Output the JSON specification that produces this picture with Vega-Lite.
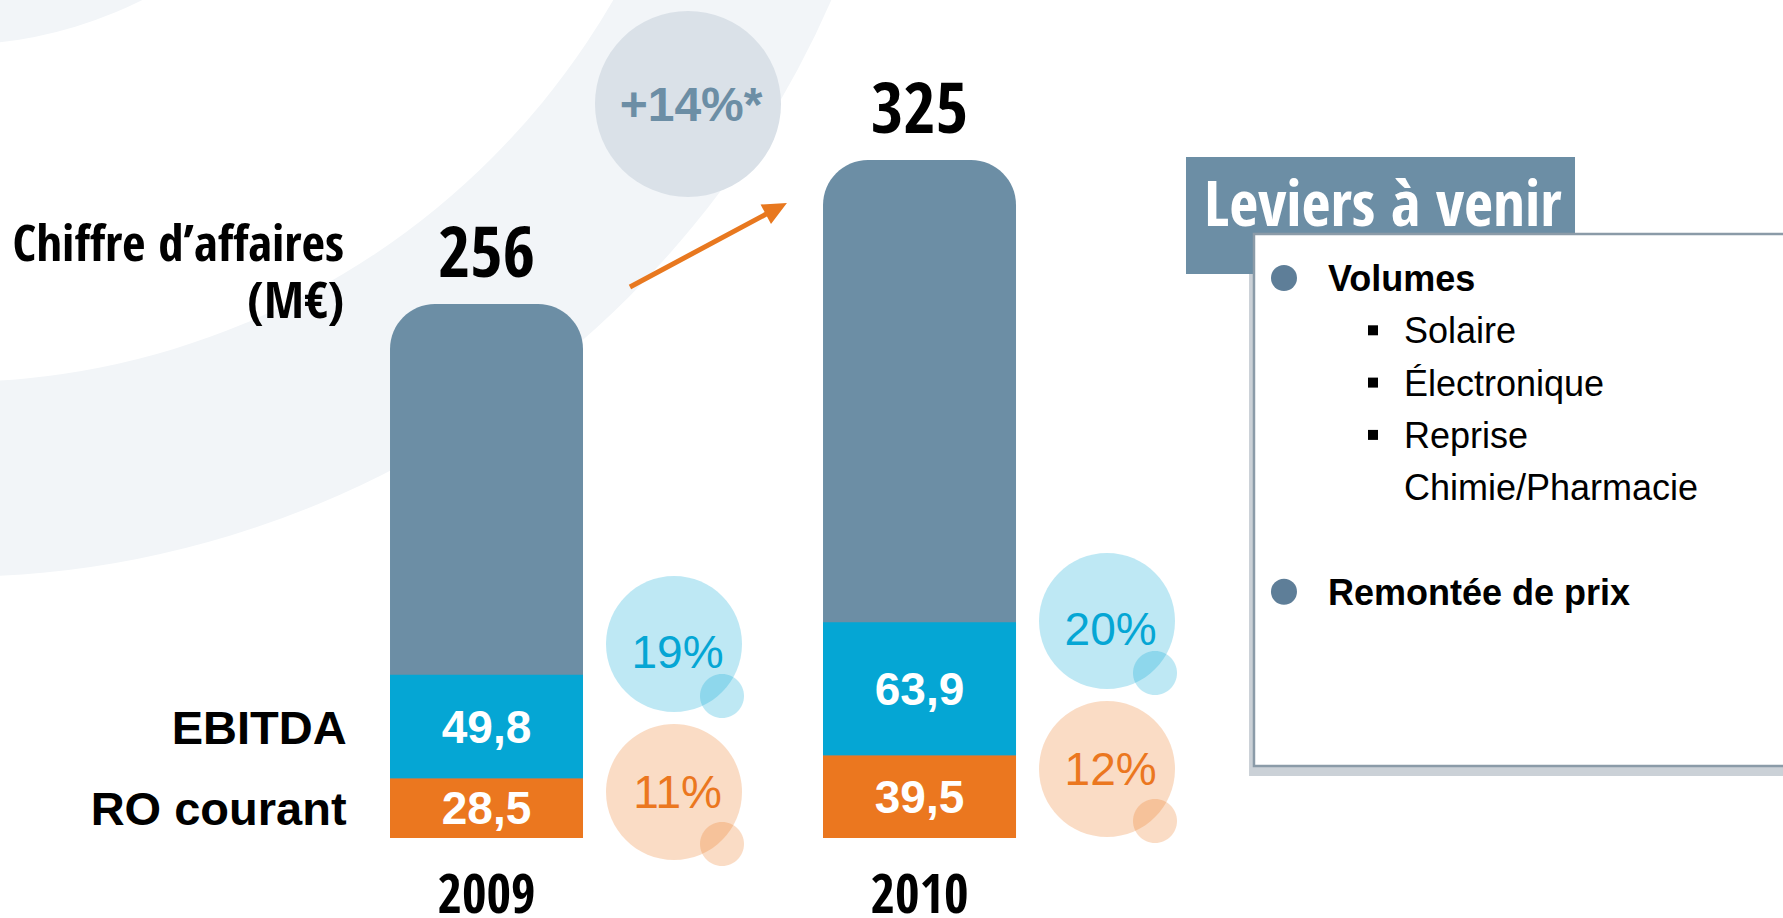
{
  "$schema": "https://vega.github.io/schema/vega-lite/v6.json",
  "width": 1783,
  "height": 918,
  "autosize": {"type": "none"},
  "padding": 0,
  "background": "white",
  "config": {
    "view": {"stroke": null},
    "locale": {"number": {"decimal": ",", "thousands": "\u00a0", "grouping": [3], "currency": ["", "\u00a0€"], "percent": "%"}}
  },
  "datasets": {
    "totals": [
      {"year": "2009", "ca": 256},
      {"year": "2010", "ca": 325}
    ],
    "segments": [
      {"year": "2009", "measure": "EBITDA", "value": 49.8, "margin": 0.19},
      {"year": "2009", "measure": "RO courant", "value": 28.5, "margin": 0.11},
      {"year": "2010", "measure": "EBITDA", "value": 63.9, "margin": 0.20},
      {"year": "2010", "measure": "RO courant", "value": 39.5, "margin": 0.12}
    ],
    "growth": [
      {"from": "2009", "to": "2010", "label": "+14%*"}
    ],
    "levers": [
      {"item": "Volumes", "level": 1, "line": 0, "bullet": true},
      {"item": "Solaire", "level": 2, "line": 1, "bullet": true},
      {"item": "Électronique", "level": 2, "line": 2, "bullet": true},
      {"item": "Reprise", "level": 2, "line": 3, "bullet": true},
      {"item": "Chimie/Pharmacie", "level": 2, "line": 4, "bullet": false},
      {"item": "Remontée de prix", "level": 1, "line": 6, "bullet": true}
    ],
    "panel": [
      {"title": "Leviers à venir"}
    ]
  },
  "layer": [
    {
      "layer": [
        {
          "data": {"values": [{}]},
          "mark": {"type": "arc", "radius": 960, "radius2": 765, "theta": 0, "theta2": 6.2832, "fill": "#F2F5F8"},
          "encoding": {
            "x": {"datum": "2009", "type": "nominal", "bandPosition": -2.2746, "axis": null, "scale": {"type": "band", "domain": ["2009", "2010", "à venir"], "paddingInner": 0.5543, "paddingOuter": 0.836, "align": 0.5387}},
            "y": {"datum": 585.3, "type": "quantitative", "axis": null, "scale": {"domain": [-38.35, 401.73], "nice": false, "zero": false}}
          }
        },
        {
          "data": {"values": [{}]},
          "mark": {"type": "arc", "radius": 428, "radius2": 0, "theta": 0, "theta2": 6.2832, "fill": "#F2F5F8"},
          "encoding": {
            "x": {"datum": "2009", "type": "nominal", "bandPosition": -2.2746, "axis": null, "scale": {"type": "band", "domain": ["2009", "2010", "à venir"], "paddingInner": 0.5543, "paddingOuter": 0.836, "align": 0.5387}},
            "y": {"datum": 585.3, "type": "quantitative", "axis": null, "scale": {"domain": [-38.35, 401.73], "nice": false, "zero": false}}
          }
        },
        {
          "data": {"name": "growth"},
          "mark": {"type": "point", "shape": "circle", "filled": true, "size": 34596, "color": "#DAE1E8", "opacity": 1, "strokeWidth": 0},
          "encoding": {
            "x": {"field": "from", "type": "nominal", "bandPosition": 1.544, "axis": null, "scale": {"type": "band", "domain": ["2009", "2010", "à venir"], "paddingInner": 0.5543, "paddingOuter": 0.836, "align": 0.5387}},
            "y": {"datum": 351.9, "type": "quantitative", "axis": null, "scale": {"domain": [-38.35, 401.73], "nice": false, "zero": false}}
          }
        },
        {
          "data": {"name": "growth"},
          "mark": {"type": "text", "font": "Arial, 'Liberation Sans', sans-serif", "fontWeight": "bold", "fontSize": 48, "color": "#6C8EA5", "align": "center", "baseline": "alphabetic", "dy": 17},
          "encoding": {
            "x": {"field": "from", "type": "nominal", "bandPosition": 1.56, "axis": null, "scale": {"type": "band", "domain": ["2009", "2010", "à venir"], "paddingInner": 0.5543, "paddingOuter": 0.836, "align": 0.5387}},
            "y": {"datum": 351.9, "type": "quantitative", "axis": null, "scale": {"domain": [-38.35, 401.73], "nice": false, "zero": false}},
            "text": {"field": "label"}
          }
        },
        {
          "data": {"name": "growth"},
          "mark": {"type": "point", "shape": "M-0.859,0.491L0.650,-0.316L0.695,-0.233L0.872,-0.467L0.579,-0.449L0.624,-0.365L-0.885,0.442Z", "filled": true, "size": 32400, "color": "#E8781F", "opacity": 1, "strokeWidth": 0},
          "encoding": {
            "x": {"field": "from", "type": "nominal", "bandPosition": 1.65, "axis": null, "scale": {"type": "band", "domain": ["2009", "2010", "à venir"], "paddingInner": 0.5543, "paddingOuter": 0.836, "align": 0.5387}},
            "y": {"datum": 284.3, "type": "quantitative", "axis": null, "scale": {"domain": [-38.35, 401.73], "nice": false, "zero": false}}
          }
        },
        {
          "data": {"name": "totals"},
          "mark": {"type": "bar", "color": "#6C8EA5", "cornerRadiusTopLeft": 45, "cornerRadiusTopRight": 45},
          "encoding": {
            "x": {"field": "year", "type": "nominal", "axis": null, "scale": {"type": "band", "domain": ["2009", "2010", "à venir"], "paddingInner": 0.5543, "paddingOuter": 0.836, "align": 0.5387}},
            "y": {"field": "ca", "type": "quantitative", "axis": null, "scale": {"domain": [-38.35, 401.73], "nice": false, "zero": false}},
            "y2": {"datum": 0}
          }
        },
        {
          "data": {"name": "segments"},
          "mark": {"type": "bar"},
          "encoding": {
            "x": {"field": "year", "type": "nominal", "axis": null, "scale": {"type": "band", "domain": ["2009", "2010", "à venir"], "paddingInner": 0.5543, "paddingOuter": 0.836, "align": 0.5387}},
            "y": {"field": "value", "type": "quantitative", "stack": "zero", "axis": null, "scale": {"domain": [-38.35, 401.73], "nice": false, "zero": false}},
            "color": {"field": "measure", "type": "nominal", "legend": null, "scale": {"domain": ["EBITDA", "RO courant"], "range": ["#05A6D4", "#EB771F"]}},
            "order": {"field": "measure", "type": "nominal", "sort": "descending"}
          }
        },
        {
          "data": {"name": "segments"},
          "mark": {"type": "text", "font": "Arial, 'Liberation Sans', sans-serif", "fontWeight": "bold", "fontSize": 46, "color": "white", "align": "center", "baseline": "alphabetic", "dy": 16},
          "encoding": {
            "x": {"field": "year", "type": "nominal", "axis": null, "scale": {"type": "band", "domain": ["2009", "2010", "à venir"], "paddingInner": 0.5543, "paddingOuter": 0.836, "align": 0.5387}},
            "y": {"field": "value", "type": "quantitative", "stack": "zero", "bandPosition": 0.5, "axis": null, "scale": {"domain": [-38.35, 401.73], "nice": false, "zero": false}},
            "detail": {"field": "measure", "type": "nominal"},
            "order": {"field": "measure", "type": "nominal", "sort": "descending"},
            "text": {"field": "value", "type": "quantitative", "format": ".1f"}
          }
        },
        {
          "data": {"name": "segments"},
          "transform": [{"filter": "datum.year === '2009'"}],
          "mark": {"type": "text", "font": "Arial, 'Liberation Sans', sans-serif", "fontWeight": "bold", "fontSize": 47, "color": "black", "align": "right", "baseline": "alphabetic", "dy": 17},
          "encoding": {
            "x": {"field": "year", "type": "nominal", "bandPosition": -0.225, "axis": null, "scale": {"type": "band", "domain": ["2009", "2010", "à venir"], "paddingInner": 0.5543, "paddingOuter": 0.836, "align": 0.5387}},
            "y": {"field": "value", "type": "quantitative", "stack": "zero", "bandPosition": 0.5, "axis": null, "scale": {"domain": [-38.35, 401.73], "nice": false, "zero": false}},
            "detail": {"field": "measure", "type": "nominal"},
            "order": {"field": "measure", "type": "nominal", "sort": "descending"},
            "text": {"field": "measure", "type": "nominal"}
          }
        },
        {
          "data": {"name": "totals"},
          "mark": {"type": "text", "font": "'Open Sans Condensed', 'Open Sans', sans-serif", "fontWeight": 800, "fontSize": 70, "color": "black", "align": "center", "baseline": "alphabetic", "dy": -27},
          "encoding": {
            "x": {"field": "year", "type": "nominal", "axis": null, "scale": {"type": "band", "domain": ["2009", "2010", "à venir"], "paddingInner": 0.5543, "paddingOuter": 0.836, "align": 0.5387}},
            "y": {"field": "ca", "type": "quantitative", "axis": null, "scale": {"domain": [-38.35, 401.73], "nice": false, "zero": false}},
            "text": {"field": "ca", "type": "quantitative", "format": "d"}
          }
        },
        {
          "data": {"name": "totals"},
          "mark": {"type": "text", "font": "'Open Sans Condensed', 'Open Sans', sans-serif", "fontWeight": 800, "fontSize": 53, "color": "black", "align": "center", "baseline": "alphabetic", "dy": 75},
          "encoding": {
            "x": {"field": "year", "type": "nominal", "axis": null, "scale": {"type": "band", "domain": ["2009", "2010", "à venir"], "paddingInner": 0.5543, "paddingOuter": 0.836, "align": 0.5387}},
            "y": {"datum": 0, "type": "quantitative", "axis": null, "scale": {"domain": [-38.35, 401.73], "nice": false, "zero": false}},
            "text": {"field": "year", "type": "nominal"}
          }
        },
        {
          "data": {"name": "totals"},
          "transform": [{"filter": "datum.year === '2009'"}],
          "mark": {"type": "text", "font": "'Open Sans Condensed', 'Open Sans', sans-serif", "fontWeight": 800, "fontSize": 51, "color": "black", "align": "right", "baseline": "alphabetic", "dy": -43, "lineHeight": 57},
          "encoding": {
            "x": {"field": "year", "type": "nominal", "bandPosition": -0.238, "axis": null, "scale": {"type": "band", "domain": ["2009", "2010", "à venir"], "paddingInner": 0.5543, "paddingOuter": 0.836, "align": 0.5387}},
            "y": {"field": "ca", "type": "quantitative", "axis": null, "scale": {"domain": [-38.35, 401.73], "nice": false, "zero": false}},
            "text": {"value": ["Chiffre d’affaires", "(M€)"]}
          }
        },
        {
          "data": {"name": "segments"},
          "mark": {"type": "point", "shape": "M-0.68,-1.345A0.68,0.68,0,1,0,0.68,-1.345A0.68,0.68,0,1,0,-0.68,-1.345Z", "filled": true, "size": 40000, "strokeWidth": 0},
          "encoding": {
            "x": {"field": "year", "type": "nominal", "bandPosition": 1.4715, "axis": null, "scale": {"type": "band", "domain": ["2009", "2010", "à venir"], "paddingInner": 0.5543, "paddingOuter": 0.836, "align": 0.5387}},
            "y": {"field": "value", "type": "quantitative", "stack": "zero", "bandPosition": 0, "axis": null, "scale": {"domain": [-38.35, 401.73], "nice": false, "zero": false}},
            "color": {"field": "measure", "type": "nominal", "legend": null},
            "order": {"field": "measure", "type": "nominal", "sort": "descending"},
            "opacity": {"condition": {"test": "datum.measure === 'EBITDA'", "value": 0.26}, "value": 0}
          }
        },
        {
          "data": {"name": "segments"},
          "mark": {"type": "point", "shape": "M0.26,-0.825A0.22,0.22,0,1,0,0.70,-0.825A0.22,0.22,0,1,0,0.26,-0.825Z", "filled": true, "size": 40000, "strokeWidth": 0},
          "encoding": {
            "x": {"field": "year", "type": "nominal", "bandPosition": 1.4715, "axis": null, "scale": {"type": "band", "domain": ["2009", "2010", "à venir"], "paddingInner": 0.5543, "paddingOuter": 0.836, "align": 0.5387}},
            "y": {"field": "value", "type": "quantitative", "stack": "zero", "bandPosition": 0, "axis": null, "scale": {"domain": [-38.35, 401.73], "nice": false, "zero": false}},
            "color": {"field": "measure", "type": "nominal", "legend": null},
            "order": {"field": "measure", "type": "nominal", "sort": "descending"},
            "opacity": {"condition": {"test": "datum.measure === 'EBITDA'", "value": 0.26}, "value": 0}
          }
        },
        {
          "data": {"name": "segments"},
          "mark": {"type": "text", "font": "Arial, 'Liberation Sans', sans-serif", "fontSize": 46, "align": "center", "baseline": "alphabetic", "dy": -111},
          "encoding": {
            "x": {"field": "year", "type": "nominal", "bandPosition": 1.49, "axis": null, "scale": {"type": "band", "domain": ["2009", "2010", "à venir"], "paddingInner": 0.5543, "paddingOuter": 0.836, "align": 0.5387}},
            "y": {"field": "value", "type": "quantitative", "stack": "zero", "bandPosition": 0, "axis": null, "scale": {"domain": [-38.35, 401.73], "nice": false, "zero": false}},
            "color": {"field": "measure", "type": "nominal", "legend": null},
            "order": {"field": "measure", "type": "nominal", "sort": "descending"},
            "opacity": {"condition": {"test": "datum.measure === 'EBITDA'", "value": 1}, "value": 0},
            "text": {"field": "margin", "type": "quantitative", "format": ".0%"}
          }
        },
        {
          "data": {"name": "segments"},
          "mark": {"type": "point", "shape": "M-0.68,0.135A0.68,0.68,0,1,0,0.68,0.135A0.68,0.68,0,1,0,-0.68,0.135Z", "filled": true, "size": 40000, "strokeWidth": 0},
          "encoding": {
            "x": {"field": "year", "type": "nominal", "bandPosition": 1.4715, "axis": null, "scale": {"type": "band", "domain": ["2009", "2010", "à venir"], "paddingInner": 0.5543, "paddingOuter": 0.836, "align": 0.5387}},
            "y": {"field": "value", "type": "quantitative", "stack": "zero", "bandPosition": 1, "axis": null, "scale": {"domain": [-38.35, 401.73], "nice": false, "zero": false}},
            "color": {"field": "measure", "type": "nominal", "legend": null},
            "order": {"field": "measure", "type": "nominal", "sort": "descending"},
            "opacity": {"condition": {"test": "datum.measure === 'RO courant'", "value": 0.26}, "value": 0}
          }
        },
        {
          "data": {"name": "segments"},
          "mark": {"type": "point", "shape": "M0.26,0.655A0.22,0.22,0,1,0,0.70,0.655A0.22,0.22,0,1,0,0.26,0.655Z", "filled": true, "size": 40000, "strokeWidth": 0},
          "encoding": {
            "x": {"field": "year", "type": "nominal", "bandPosition": 1.4715, "axis": null, "scale": {"type": "band", "domain": ["2009", "2010", "à venir"], "paddingInner": 0.5543, "paddingOuter": 0.836, "align": 0.5387}},
            "y": {"field": "value", "type": "quantitative", "stack": "zero", "bandPosition": 1, "axis": null, "scale": {"domain": [-38.35, 401.73], "nice": false, "zero": false}},
            "color": {"field": "measure", "type": "nominal", "legend": null},
            "order": {"field": "measure", "type": "nominal", "sort": "descending"},
            "opacity": {"condition": {"test": "datum.measure === 'RO courant'", "value": 0.26}, "value": 0}
          }
        },
        {
          "data": {"name": "segments"},
          "mark": {"type": "text", "font": "Arial, 'Liberation Sans', sans-serif", "fontSize": 46, "align": "center", "baseline": "alphabetic", "dy": 29},
          "encoding": {
            "x": {"field": "year", "type": "nominal", "bandPosition": 1.49, "axis": null, "scale": {"type": "band", "domain": ["2009", "2010", "à venir"], "paddingInner": 0.5543, "paddingOuter": 0.836, "align": 0.5387}},
            "y": {"field": "value", "type": "quantitative", "stack": "zero", "bandPosition": 1, "axis": null, "scale": {"domain": [-38.35, 401.73], "nice": false, "zero": false}},
            "color": {"field": "measure", "type": "nominal", "legend": null},
            "order": {"field": "measure", "type": "nominal", "sort": "descending"},
            "opacity": {"condition": {"test": "datum.measure === 'RO courant'", "value": 1}, "value": 0},
            "text": {"field": "margin", "type": "quantitative", "format": ".0%"}
          }
        }
      ]
    },
    {
      "layer": [
        {
          "data": {"name": "panel"},
          "mark": {"type": "rect", "fill": "#A9B3BC", "opacity": 0.6},
          "encoding": {
            "x": {"datum": 0.607, "type": "quantitative", "axis": null, "scale": {"domain": [-13.427, 6.607], "nice": false, "zero": false}},
            "x2": {"datum": 7},
            "y": {"datum": -0.727, "type": "quantitative", "axis": null, "scale": {"domain": [-5.3155, 12.237], "nice": false, "zero": false, "reverse": true}},
            "y2": {"datum": 9.522}
          }
        },
        {
          "data": {"name": "panel"},
          "mark": {"type": "rect", "fill": "#6C8EA5"},
          "encoding": {
            "x": {"datum": -0.101, "type": "quantitative", "axis": null},
            "x2": {"datum": 4.27},
            "y": {"datum": -2.314, "type": "quantitative", "axis": null},
            "y2": {"datum": -0.076}
          }
        },
        {
          "data": {"name": "panel"},
          "mark": {"type": "rect", "fill": "white", "stroke": "#8B9BA8", "strokeWidth": 2.5},
          "encoding": {
            "x": {"datum": 0.663, "type": "quantitative", "axis": null},
            "x2": {"datum": 7},
            "y": {"datum": -0.841, "type": "quantitative", "axis": null},
            "y2": {"datum": 9.331}
          }
        },
        {
          "data": {"name": "panel"},
          "mark": {"type": "text", "font": "'Open Sans Condensed', 'Open Sans', sans-serif", "fontWeight": "bold", "fontSize": 63, "color": "white", "align": "left", "baseline": "alphabetic"},
          "encoding": {
            "x": {"datum": 0.101, "type": "quantitative", "axis": null},
            "y": {"datum": -0.994, "type": "quantitative", "axis": null},
            "text": {"field": "title"}
          }
        },
        {
          "data": {"name": "levers"},
          "transform": [{"filter": "datum.bullet && datum.level === 1"}],
          "mark": {"type": "point", "shape": "circle", "filled": true, "size": 676, "color": "#5E7E98", "opacity": 1, "strokeWidth": 0},
          "encoding": {
            "x": {"field": "level", "type": "quantitative", "axis": null},
            "y": {"field": "line", "type": "quantitative", "axis": null}
          }
        },
        {
          "data": {"name": "levers"},
          "transform": [{"filter": "datum.bullet && datum.level === 2"}],
          "mark": {"type": "point", "shape": "square", "filled": true, "size": 100, "color": "black", "opacity": 1, "strokeWidth": 0},
          "encoding": {
            "x": {"field": "level", "type": "quantitative", "axis": null},
            "y": {"field": "line", "type": "quantitative", "axis": null}
          }
        },
        {
          "data": {"name": "levers"},
          "transform": [{"filter": "datum.level === 1"}],
          "mark": {"type": "text", "font": "Arial, 'Liberation Sans', sans-serif", "fontWeight": "bold", "fontSize": 36, "color": "black", "align": "left", "baseline": "alphabetic", "dx": 44, "dy": 13},
          "encoding": {
            "x": {"field": "level", "type": "quantitative", "axis": null},
            "y": {"field": "line", "type": "quantitative", "axis": null},
            "text": {"field": "item"}
          }
        },
        {
          "data": {"name": "levers"},
          "transform": [{"filter": "datum.level === 2"}],
          "mark": {"type": "text", "font": "Arial, 'Liberation Sans', sans-serif", "fontSize": 36, "color": "black", "align": "left", "baseline": "alphabetic", "dx": 31, "dy": 13},
          "encoding": {
            "x": {"field": "level", "type": "quantitative", "axis": null},
            "y": {"field": "line", "type": "quantitative", "axis": null},
            "text": {"field": "item"}
          }
        }
      ]
    }
  ],
  "resolve": {"scale": {"x": "independent", "y": "independent", "color": "independent"}}
}
